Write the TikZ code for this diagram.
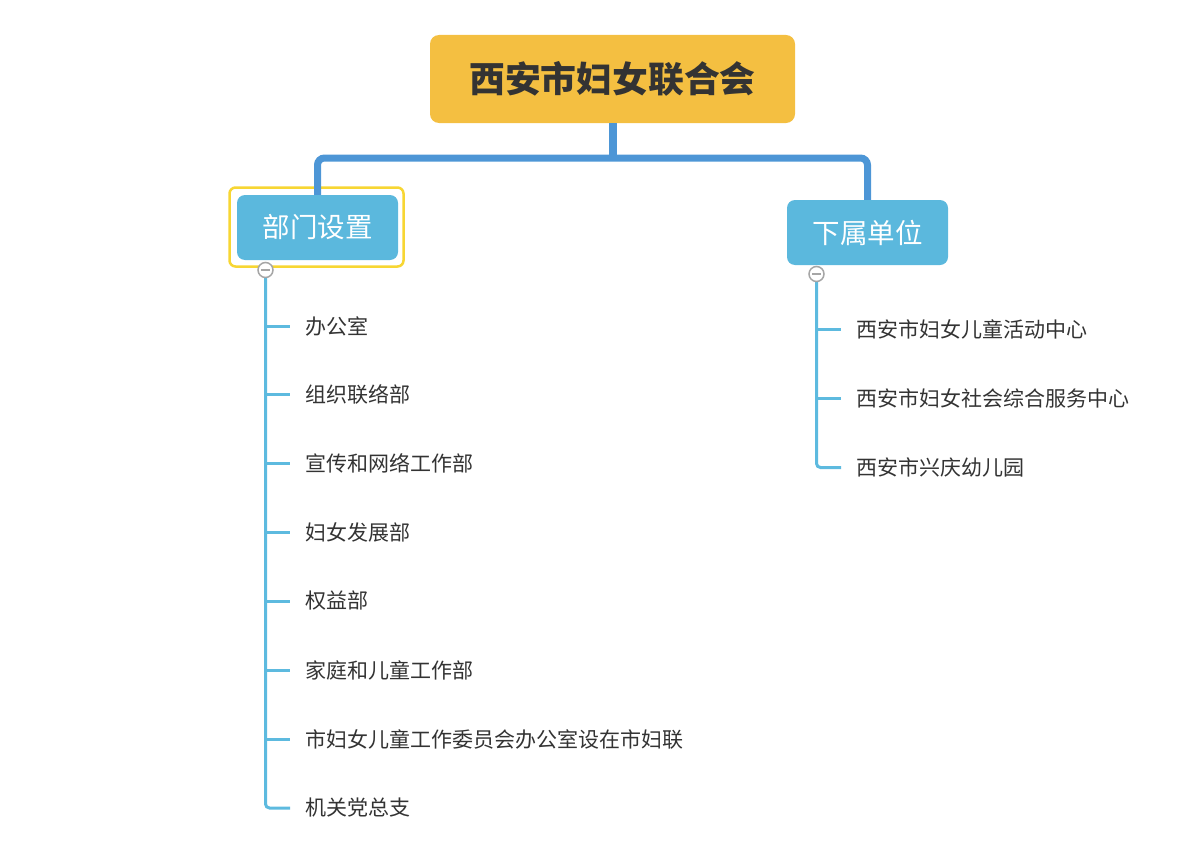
\documentclass[tikz,border=0pt]{standalone}
\usepackage{fontspec}
\setmainfont{Noto Sans CJK SC}
\definecolor{rootfill}{HTML}{F4BF41}
\definecolor{mainblue}{HTML}{4D96D6}
\definecolor{childfill}{HTML}{5BB8DD}
\definecolor{leafblue}{HTML}{5DBADF}
\definecolor{selyellow}{HTML}{F7D633}
\definecolor{txt}{HTML}{333333}
\tikzset{
  rootbox/.style={fill=rootfill, rounded corners=9pt, minimum width=365pt, minimum height=88pt, inner sep=0pt, text=txt, font=\fontsize{35.8}{35.8}\selectfont\bfseries},
  childbox/.style={fill=childfill, rounded corners=8pt, minimum width=161pt, minimum height=65pt, inner sep=0pt, text=white, font=\fontsize{27.5}{27.5}\selectfont},
  selbox/.style={draw=selyellow, line width=2.5pt, rounded corners=6pt, minimum width=174pt, minimum height=79pt},
  leaf/.style={anchor=west, inner sep=0pt, text=txt, font=\fontsize{21}{21}\selectfont},
  mainline/.style={draw=mainblue, line width=7pt},
  leafline/.style={draw=leafblue, line width=3pt},
  toggle/.style={circle, draw=gray!70, line width=1.5pt, fill=white, minimum size=15pt, inner sep=0pt},
}
\begin{document}
\begin{tikzpicture}[x=1pt,y=-1pt]
\useasboundingbox (0,0) rectangle (1199,851);
\node[rootbox] (root) at (612.5,79) {西安市妇女联合会};
\coordinate (hub) at (612.5,158);
\node[selbox] (sel) at (316.5,227) {};
\node[childbox] (dept) at (317.5,227.5) {部门设置};
\node[childbox] (sub) at (867.5,232.5) {下属单位};
% main connectors
\draw[mainline, line width=8pt] (root.south) -- (hub);
\draw[mainline, rounded corners=7pt] (dept.north) -- (dept.north |- hub) -- (sub.north |- hub) -- (sub.north);
% left leaves
\node[leaf] (l1) at (305,326) {办公室};
\node[leaf] (l2) at (305,394.5) {组织联络部};
\node[leaf] (l3) at (305,463) {宣传和网络工作部};
\node[leaf] (l4) at (305,532) {妇女发展部};
\node[leaf] (l5) at (305,601) {权益部};
\node[leaf] (l6) at (305,670) {家庭和儿童工作部};
\node[leaf] (l7) at (305,739) {市妇女儿童工作委员会办公室设在市妇联};
\node[leaf] (l8) at (305,808) {机关党总支};
\coordinate (tl) at (265.5,270);
\draw[leafline, rounded corners=4pt] (tl) -- (tl |- l8.west) -- ([xshift=-15pt]l8.west);
\foreach \i in {1,...,7} \draw[leafline] (tl |- l\i.west) -- ([xshift=-15pt]l\i.west);
\node[toggle] (t1) at (tl) {};
\draw[gray!70, line width=1.5pt] ([xshift=-4.5pt]t1.center) -- ([xshift=4.5pt]t1.center);
% right leaves
\node[leaf] (r1) at (856,329.5) {西安市妇女儿童活动中心};
\node[leaf] (r2) at (856,398.5) {西安市妇女社会综合服务中心};
\node[leaf] (r3) at (856,467.5) {西安市兴庆幼儿园};
\coordinate (tr) at (816.5,274);
\draw[leafline, rounded corners=4pt] (tr) -- (tr |- r3.west) -- ([xshift=-15pt]r3.west);
\foreach \i in {1,2} \draw[leafline] (tr |- r\i.west) -- ([xshift=-15pt]r\i.west);
\node[toggle] (t2) at (tr) {};
\draw[gray!70, line width=1.5pt] ([xshift=-4.5pt]t2.center) -- ([xshift=4.5pt]t2.center);
\end{tikzpicture}
\end{document}
